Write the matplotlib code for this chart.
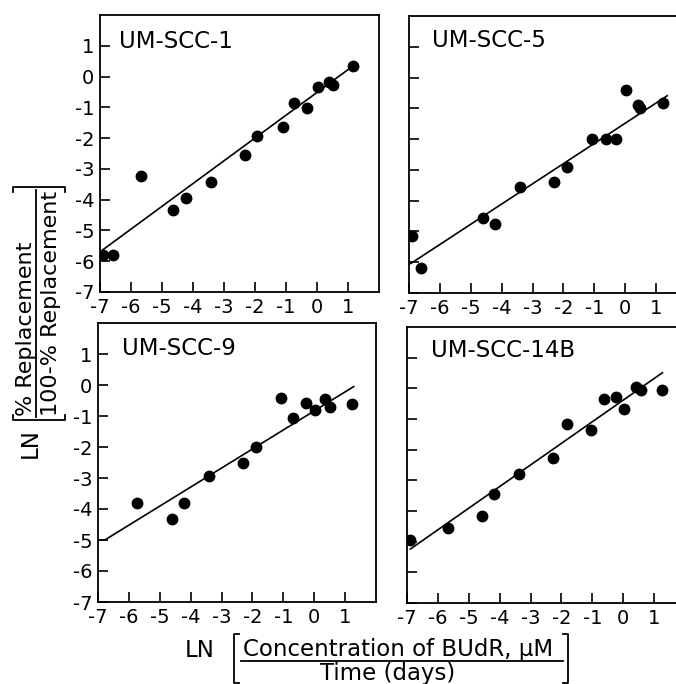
import matplotlib
matplotlib.use("Agg")
import matplotlib.pyplot as plt
from matplotlib.lines import Line2D

plt.rcParams["font.family"] = "DejaVu Sans"
plt.rcParams["axes.unicode_minus"] = False

# ----------------------------
# Data
# ----------------------------
panel_names = ["UM-SCC-1", "UM-SCC-5", "UM-SCC-9", "UM-SCC-14B"]

scc1_x = [-6.89, -6.59, -5.69, -4.64, -4.21, -3.42, -2.32, -1.93, -1.09, -0.74, -0.31, 0.02, 0.39, 0.50, 1.17]
scc1_y = [-5.79, -5.79, -3.23, -4.33, -3.96, -3.43, -2.54, -1.93, -1.64, -0.85, -1.01, -0.34, -0.17, -0.26, 0.35]
scc1_fit_x = [-6.91, 1.17]
scc1_fit_y = [-5.63, 0.35]

scc5_x = [-6.91, -6.62, -4.61, -4.21, -3.40, -2.29, -1.89, -1.08, -0.62, -0.30, 0.03, 0.42, 0.49, 1.22]
scc5_y = [-5.14, -6.20, -4.57, -4.75, -3.57, -3.39, -2.89, -1.99, -1.99, -1.99, -0.42, -0.90, -0.99, -0.83]
scc5_fit_x = [-6.94, 1.36]
scc5_fit_y = [-6.04, -0.59]

scc9_x = [-5.73, -4.59, -4.21, -3.41, -2.29, -1.87, -1.09, -0.70, -0.26, 0.01, 0.36, 0.52, 1.23]
scc9_y = [-3.82, -4.32, -3.82, -2.92, -2.52, -2.00, -0.41, -1.08, -0.59, -0.81, -0.46, -0.70, -0.61]
scc9_fit_x = [-6.93, -6.78, 1.28]
scc9_fit_y = [-5.00, -5.00, -0.05]

scc14_x = [-6.89, -5.68, -4.57, -4.19, -3.38, -2.26, -1.83, -1.05, -0.62, -0.25, 0.04, 0.40, 0.59, 1.25]
scc14_y = [-4.95, -4.57, -4.16, -3.46, -2.78, -2.27, -1.17, -1.37, -0.36, -0.29, -0.67, 0.05, -0.05, -0.05]
scc14_fit_x = [-6.89, 1.27]
scc14_fit_y = [-5.24, 0.51]

tick_vals = list(range(-7, 2))

panels = [
    (scc1_x, scc1_y, scc1_fit_x, scc1_fit_y),
    (scc5_x, scc5_y, scc5_fit_x, scc5_fit_y),
    (scc9_x, scc9_y, scc9_fit_x, scc9_fit_y),
    (scc14_x, scc14_y, scc14_fit_x, scc14_fit_y),
]

# ----------------------------
# Layout (pixel boxes: left, top, width, height)
# ----------------------------
W, H = 676, 684
boxes = [(100, 15, 279, 277), (409, 16, 278, 277), (98, 323, 278, 279), (407, 327, 278, 276)]
title_pos = [(0.068, 0.882), (0.083, 0.888), (0.085, 0.885), (0.085, 0.892)]


def fx(px):
    return px / W


def fy(py):
    return 1 - py / H


def bracket(xs, ys):
    fig.add_artist(Line2D([fx(v) for v in xs], [fy(v) for v in ys], color="black", lw=1.3))


fig = plt.figure(figsize=(W / 100, H / 100), dpi=100)

for i, ((x, y, lx, ly), (l, t, w, h)) in enumerate(zip(panels, boxes)):
    ax = fig.add_axes([fx(l), fy(t + h), w / W, h / H])
    ax.plot(lx, ly, color="black", lw=1.2)
    ax.plot(x, y, "o", color="black", ms=7.5, mec="black")
    ax.set_xlim(-7, 2)
    ax.set_ylim(-7, 2)
    ax.set_xticks(tick_vals)
    ax.set_yticks(tick_vals)
    ax.set_xticklabels([str(v) for v in tick_vals])
    if i % 2 == 0:
        ax.set_yticklabels([str(v) for v in tick_vals])
    else:
        ax.set_yticklabels([])
    ax.tick_params(direction="in", length=7, width=1.2, labelsize=14, pad=4)
    for s in ax.spines.values():
        s.set_linewidth(1.3)
    tx, ty = title_pos[i]
    ax.text(tx, ty, panel_names[i], transform=ax.transAxes, fontsize=16.5,
            ha="left", va="baseline")

# ----------------------------
# X label: LN [ Concentration of BUdR, uM / Time (days) ]
# ----------------------------
lab_fs = 16.5
fig.text(fx(185), fy(657), "LN", fontsize=lab_fs, ha="left", va="baseline")
fig.text(fx(243), fy(656), "Concentration of BUdR, \u03bcM", fontsize=lab_fs, ha="left", va="baseline")
fig.text(fx(320), fy(680), "Time (days)", fontsize=lab_fs, ha="left", va="baseline")
fig.add_artist(Line2D([fx(241), fx(563)], [fy(661), fy(661)], color="black", lw=1.3))
bracket([239, 234, 234, 239], [634, 634, 683, 683])
bracket([563, 568, 568, 563], [634, 634, 683, 683])

# ----------------------------
# Y label (rotated): LN [ % Replacement / 100-% Replacement ]
# ----------------------------
fig.text(fx(37), fy(458), "LN", fontsize=lab_fs, rotation=90, rotation_mode="anchor",
         ha="left", va="baseline")
fig.text(fx(32), fy(416), "% Replacement", fontsize=16, rotation=90, rotation_mode="anchor",
         ha="left", va="baseline")
fig.text(fx(57), fy(416), "100-% Replacement", fontsize=16, rotation=90, rotation_mode="anchor",
         ha="left", va="baseline")
fig.add_artist(Line2D([fx(36), fx(36)], [fy(417), fy(190)], color="black", lw=1.3))
bracket([13, 13, 65, 65], [415, 420, 420, 415])
bracket([13, 13, 65, 65], [192, 187, 187, 192])

fig.savefig("out.png", dpi=100)
